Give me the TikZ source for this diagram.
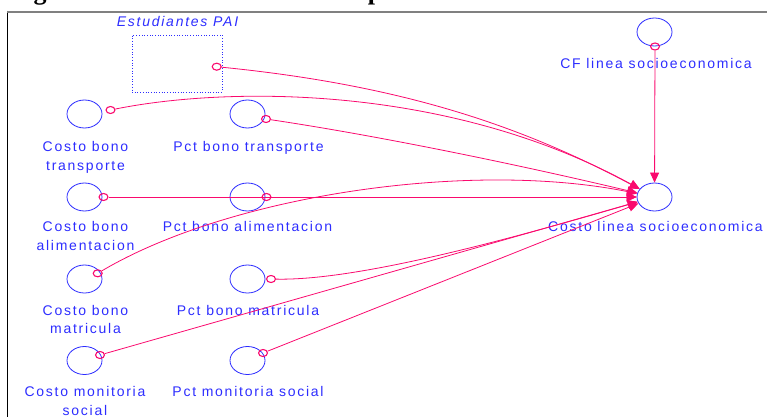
\documentclass[tikz,border=0pt]{standalone}
\usepackage{fontspec}
\usetikzlibrary{shapes.geometric,arrows.meta}
\newfontfamily\lblfont{Liberation Sans}[LetterSpace=12.5]
\newfontfamily\capfont{Liberation Serif}
\definecolor{vblue}{RGB}{45,45,255}
\definecolor{lpink}{RGB}{250,10,110}
\definecolor{framegray}{RGB}{128,128,128}
\tikzset{
  aux/.style={ellipse, draw=vblue, line width=0.8pt, minimum width=35pt, minimum height=28pt, inner sep=0pt},
  stockbox/.style={rectangle, draw=vblue, dotted, line width=0.7pt, minimum width=90pt, minimum height=57pt, inner sep=0pt},
  lbl/.style={text=vblue, font=\lblfont\fontsize{14}{18.3}\selectfont, align=center, inner sep=0pt, anchor=north},
  tap/.style={ellipse, draw=lpink, line width=1.1pt, minimum width=9pt, minimum height=7pt, inner sep=0pt},
  link/.style={draw=lpink, line width=0.8pt, -{Triangle[length=10pt,width=9pt]}},
  capglyph/.style={font=\capfont\bfseries\fontsize{26}{26}\selectfont, inner sep=0pt, anchor=base west}
}
\begin{document}
\begin{tikzpicture}[x=1pt,y=-1pt]
\useasboundingbox (0,0) rectangle (767,417);
% cut-off caption glyphs
\node[capglyph] (capg) at (33.5,-0.5) {g};
\node[capglyph] (capp) at (367.6,-0.5) {p};
% frame
\draw[black, line width=0.9pt] (7.3,11) -- (7.3,417);
\draw[framegray, line width=2pt] (7,12) -- (767,12);
% stock
\node[stockbox] (pai) at (177,63.5) {};
\node[lbl, font=\lblfont\itshape\fontsize{14}{18.3}\selectfont] (paiL) at (177.5,15.7) {Estudiantes PAI};
% auxiliaries
\node[aux] (ctb) at (84.5,114) {};
\node[aux] (pbt) at (247.5,114) {};
\node[aux] (cba) at (84.5,197) {};
\node[aux] (pba) at (247.5,197) {};
\node[aux] (cbm) at (84.5,279) {};
\node[aux] (pbm) at (247.5,279) {};
\node[aux] (cms) at (84.5,360.5) {};
\node[aux] (pms) at (247.5,360.5) {};
\node[aux] (cf) at (654.5,32) {};
\node[aux] (cls) at (654.5,197) {};
% labels
\node[lbl] (ctbL) at (85.5,141.4) {Costo bono\\transporte};
\node[lbl] (pbtL) at (248.5,141.4) {Pct bono transporte};
\node[lbl] (cbaL) at (85.5,221.4) {Costo bono\\alimentacion};
\node[lbl] (pbaL) at (247.5,221.4) {Pct bono alimentacion};
\node[lbl] (cbmL) at (85.5,304.7) {Costo bono\\matricula};
\node[lbl] (pbmL) at (248,304.7) {Pct bono matricula};
\node[lbl] (cmsL) at (85,386.4) {Costo monitoria\\social};
\node[lbl] (pmsL) at (248,386.4) {Pct monitoria social};
\node[lbl] (cfL) at (656,58) {CF linea socioeconomica};
\node[lbl] (clsL) at (655.5,221.4) {Costo linea socioeconomica};
% taps
\node[tap] (tpai) at (216.7,66.7) {};
\node[tap] (tctb) at (110.5,110) {};
\node[tap] (tpbt) at (266,119) {};
\node[tap] (tcba) at (103.5,197) {};
\node[tap] (tpba) at (266.5,197) {};
\node[tap] (tcbm) at (97.7,273.3) {};
\node[tap] (tpbm) at (271,279) {};
\node[tap] (tcms) at (100,355) {};
\node[tap] (tpms) at (263,353) {};
\node[tap] (tcf) at (655,46.5) {};
% connectors
\draw[link] (tpai) .. controls (400,85) and (520,125) .. (cls);
\draw[link] (tctb) .. controls (230,86) and (450,85) .. (cls);
\draw[link] (tpbt) .. controls (380,136) and (520,165) .. (cls);
\draw[link] (tcba) -- (cls);
\draw[link] (tpba) -- (cls);
\draw[link] (tcbm) .. controls (230,195) and (470,160) .. (cls);
\draw[link] (tpbm) .. controls (360,281) and (520,236) .. (cls);
\draw[link] (tcms) -- (cls);
\draw[link] (tpms) -- (cls);
\draw[link] (tcf) -- (cls);
\end{tikzpicture}
\end{document}
